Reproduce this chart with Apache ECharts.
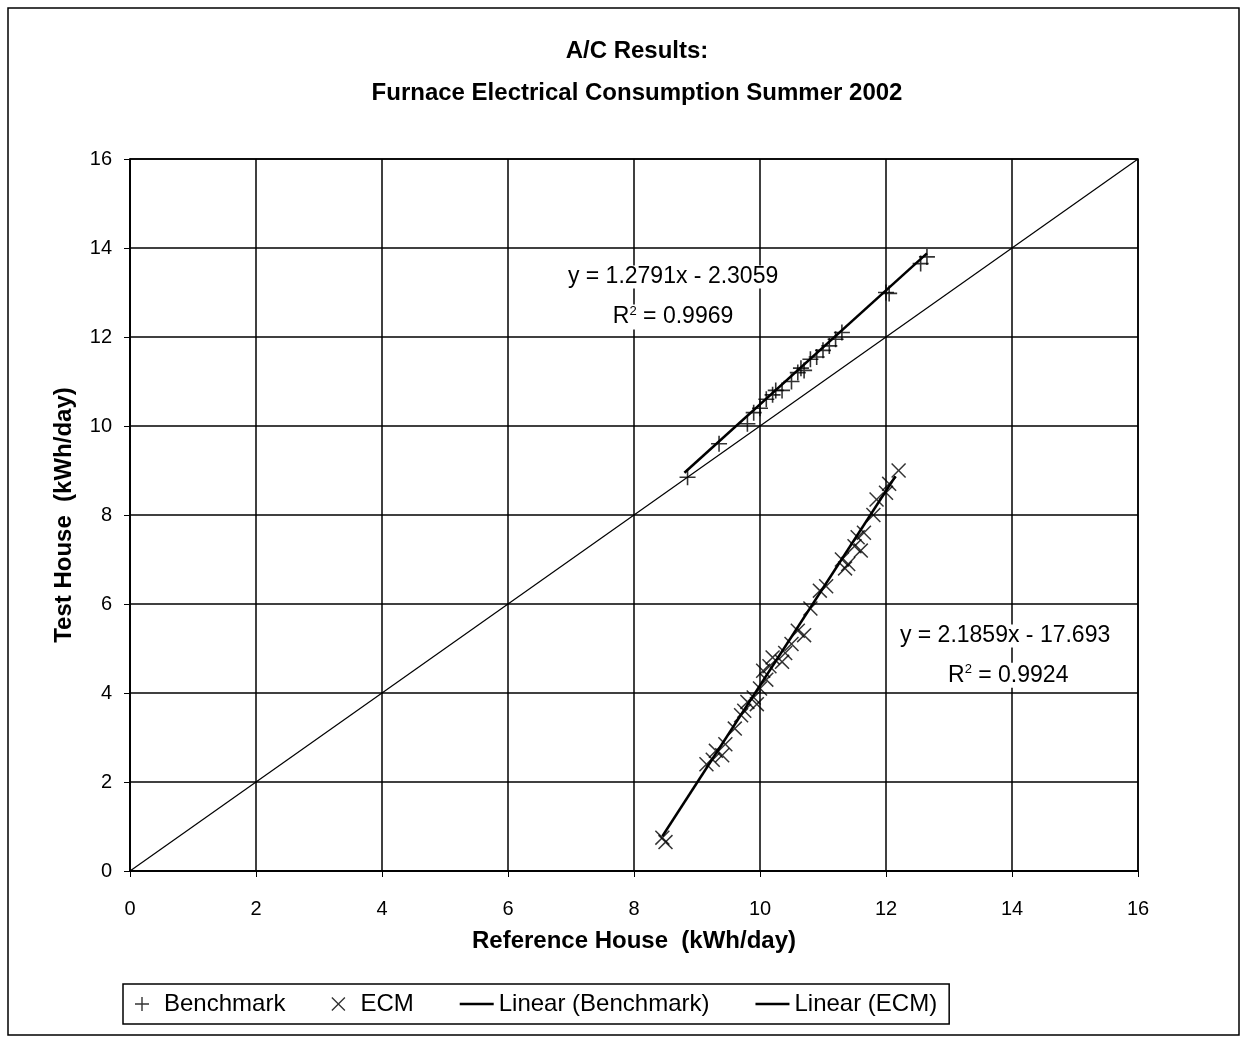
<!DOCTYPE html>
<html>
<head>
<meta charset="utf-8">
<script src="https://cdn.jsdelivr.net/npm/echarts@6/dist/echarts.min.js"></script>
<style>
  html, body { margin: 0; padding: 0; background: #fff; }
  #main { width: 1243px; height: 1040px; }
</style>
</head>
<body>
<div id="main"></div>
<script>
// Benchmark points (upper cluster)
var benchmark = [
  [8.85, 8.85], [9.35, 9.6], [9.8, 10.05], [9.9, 10.3], [10.0, 10.4], [10.1, 10.6],
  [10.2, 10.7], [10.25, 10.8], [10.35, 10.8], [10.5, 11.0], [10.6, 11.2], [10.65, 11.3],
  [10.7, 11.25], [10.8, 11.5], [10.9, 11.55], [11.0, 11.7], [11.1, 11.8], [11.2, 11.95],
  [11.3, 12.1], [12.0, 13.0], [12.05, 12.98], [12.55, 13.65], [12.65, 13.8]
]
// ECM points (lower cluster)
var ecm = [
  [8.45, 0.75], [8.5, 0.65], [9.15, 2.4], [9.25, 2.5], [9.3, 2.7], [9.4, 2.6],
  [9.45, 2.85], [9.6, 3.2], [9.7, 3.5], [9.75, 3.6], [9.8, 3.8], [9.9, 3.9],
  [9.95, 3.75], [10.0, 4.1], [10.05, 4.5], [10.1, 4.3], [10.15, 4.6], [10.2, 4.8],
  [10.35, 4.7], [10.4, 4.9], [10.5, 5.1], [10.6, 5.4], [10.7, 5.3], [10.8, 5.9],
  [10.95, 6.3], [11.05, 6.4], [11.3, 7.0], [11.35, 6.8], [11.4, 6.9], [11.5, 7.3],
  [11.55, 7.5], [11.6, 7.2], [11.65, 7.6], [11.8, 8.0], [11.85, 8.35], [12.0, 8.5],
  [12.05, 8.7], [12.2, 9.0]
]
// trend line end points
var benchTrend = [[8.8, 8.95], [12.65, 13.88]]
var ecmTrend = [[8.45, 0.78], [12.15, 8.87]]
var equalLine = [[0, 0], [16, 16]]

var benchEq = ['y = 1.2791x - 2.3059', 'R{sup|2} = 0.9969']
var ecmEq = ['y = 2.1859x - 17.693', 'R{sup|2} = 0.9924']
var benchEqPos = [[8.62, 13.35], [8.62, 12.45]]
var ecmEqPos = [[13.89, 5.28], [13.94, 4.40]]

var FONT = 'Liberation Sans'
var plusPath = 'path://M4.5,0H5.5V4.5H10V5.5H5.5V10H4.5V5.5H0V4.5H4.5Z'
var crossPath = 'path://M0,0.7L0.7,0L5,4.3L9.3,0L10,0.7L5.7,5L10,9.3L9.3,10L5,5.7L0.7,10L0,9.3L4.3,5Z'
var linePath = 'path://M0,0H30V2H0Z'

var myChart = echarts.init(document.getElementById('main'))
var option = {
  backgroundColor: '#fff',
  animation: false,
  title: {
    text: 'A/C Results:\nFurnace Electrical Consumption Summer 2002',
    left: 632,
    textAlign: 'center',
    top: 25,
    textStyle: { fontFamily: FONT, fontSize: 24, fontWeight: 'bold', color: '#000', lineHeight: 42 }
  },
  grid: {
    left: 130, right: 105, top: 159, bottom: 169,
    show: true, borderColor: '#000', borderWidth: 1.5
  },
  xAxis: {
    type: 'value', min: 0, max: 16, interval: 2,
    name: 'Reference House  (kWh/day)',
    nameLocation: 'middle', nameGap: 58,
    nameTextStyle: { fontFamily: FONT, fontSize: 24, fontWeight: 'bold', color: '#000' },
    axisLine: { lineStyle: { color: '#000', width: 1.5 } },
    axisTick: { show: true, length: 6, lineStyle: { color: '#000' } },
    axisLabel: { fontFamily: FONT, fontSize: 20, color: '#000', margin: 28 },
    splitLine: { show: true, lineStyle: { color: '#000', width: 1.5 } }
  },
  yAxis: {
    type: 'value', min: 0, max: 16, interval: 2,
    name: 'Test House  (kWh/day)',
    nameLocation: 'middle', nameGap: 54,
    nameTextStyle: { fontFamily: FONT, fontSize: 24, fontWeight: 'bold', color: '#000' },
    axisLine: { show: true, lineStyle: { color: '#000', width: 1.5 } },
    axisTick: { show: true, length: 6, lineStyle: { color: '#000' } },
    axisLabel: { fontFamily: FONT, fontSize: 20, color: '#000', margin: 18 },
    splitLine: { show: true, lineStyle: { color: '#000', width: 1.5 } }
  },
  legend: {
    left: 123, top: 984,
    padding: [8, 12],
    itemGap: 46,
    itemWidth: 34, itemHeight: 14,
    borderColor: '#000', borderWidth: 1.5,
    textStyle: { fontFamily: FONT, fontSize: 24, color: '#000' },
    data: [
      { name: 'Benchmark', icon: plusPath },
      { name: 'ECM', icon: crossPath },
      { name: 'Linear (Benchmark)', icon: linePath },
      { name: 'Linear (ECM)', icon: linePath }
    ]
  },
  series: [
    {
      name: 'y=x', type: 'line', data: equalLine, showSymbol: false, silent: true,
      lineStyle: { color: '#000', width: 1.2 }, z: 2
    },
    {
      name: 'Benchmark', type: 'scatter', data: benchmark,
      symbol: plusPath, symbolSize: 16, itemStyle: { color: '#000' }, z: 4
    },
    {
      name: 'ECM', type: 'scatter', data: ecm,
      symbol: crossPath, symbolSize: 15, itemStyle: { color: '#000' }, z: 4
    },
    {
      name: 'Linear (Benchmark)', type: 'line', data: benchTrend, showSymbol: false,
      lineStyle: { color: '#000', width: 2.5 }, itemStyle: { color: '#000' }, z: 3
    },
    {
      name: 'Linear (ECM)', type: 'line', data: ecmTrend, showSymbol: false,
      lineStyle: { color: '#000', width: 2.5 }, itemStyle: { color: '#000' }, z: 3
    }
  ]
}
myChart.setOption(option)

// equation labels and outer frame
function eqText(txt, pos) {
  var p = myChart.convertToPixel({ gridIndex: 0 }, pos)
  return {
    type: 'text', x: p[0], y: p[1], z: 10,
    style: {
      text: txt, align: 'center', verticalAlign: 'middle',
      fontFamily: FONT, fontSize: 23, fill: '#000', backgroundColor: '#fff',
      rich: { sup: { fontFamily: FONT, fontSize: 13, verticalAlign: 'top', padding: [0, 0, 12, 0] } }
    }
  }
}
var g = [
  { type: 'rect', shape: { x: 8, y: 8, width: 1231, height: 1027 }, style: { fill: 'none', stroke: '#000', lineWidth: 1.5 } }
]
for (var i = 0; i < 2; i++) {
  g.push(eqText(benchEq[i], benchEqPos[i]))
  g.push(eqText(ecmEq[i], ecmEqPos[i]))
}
myChart.setOption({ graphic: g })
</script>
</body>
</html>
